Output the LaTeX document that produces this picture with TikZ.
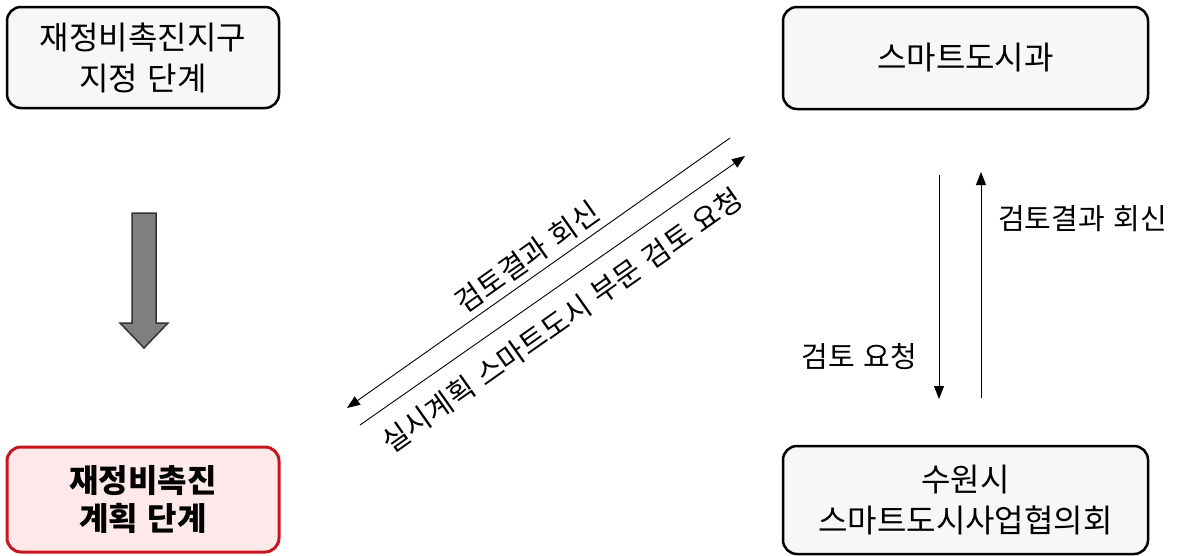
\documentclass[tikz,border=0pt]{standalone}
\usepackage{fontspec}
\newfontfamily\kr{Noto Sans CJK KR}
\newfontfamily\krl[WordSpace=1.3]{Noto Sans CJK KR}
\usetikzlibrary{arrows.meta}
\definecolor{boxfill}{HTML}{F7F7F7}
\definecolor{redline}{HTML}{C8161D}
\definecolor{pinkfill}{HTML}{FDE9EA}
\definecolor{arrowgray}{HTML}{808080}
\tikzset{
  box/.style={draw=black, line width=2.5pt, rounded corners=14pt, fill=boxfill,
    align=center, inner sep=0pt, font=\kr\fontsize{32}{41}\selectfont},
  redbox/.style={box, draw=redline, fill=pinkfill, line width=3pt,
    font=\kr\bfseries\fontsize{32}{38}\selectfont},
  lbl/.style={font=\krl\fontsize{29}{34}\selectfont, inner sep=0pt},
  arr/.style={line width=0.9pt, -{Triangle[length=13pt,width=10pt]}}
}
\begin{document}
\begin{tikzpicture}[x=1pt,y=-1pt]
\useasboundingbox (0,0) rectangle (1178,555);
% boxes
\node[box, minimum width=272pt, minimum height=101pt] (tl) at (143,57.5) {재정비촉진지구\\지정 단계};
\node[redbox, minimum width=272pt, minimum height=105pt] (bl) at (143,499.5) {재정비촉진\\계획 단계};
\node[box, minimum width=365pt, minimum height=102pt] (tr) at (965.5,58) {스마트도시과};
\node[box, minimum width=365pt, minimum height=108pt] (br) at (965.5,500) {수원시\\스마트도시사업협의회};
% gray block arrow
\coordinate (g1) at (132,213);
\fill[arrowgray, draw=black!80, line width=1.5pt, line join=miter]
  (g1) -- ++(24,0) -- ++(0,110) -- ++(12,0) -- (144,348) -- (120,323) -- (132,323) -- cycle;
% diagonal arrows
\coordinate (d1s) at (730,138);
\coordinate (d1e) at (347,408);
\coordinate (d2s) at (360,425);
\coordinate (d2e) at (745,156);
\draw[arr] (d1s) -- (d1e);
\draw[arr] (d2s) -- (d2e);
\node[lbl, rotate=35.2] (lab1) at (527,257) {검토결과 회신};
\node[lbl, rotate=35.2] (lab2) at (562,320) {실시계획 스마트도시 부문 검토 요청};
% vertical arrows
\coordinate (v1s) at (939,175);
\coordinate (v1e) at (939,399);
\coordinate (v2s) at (981,398);
\coordinate (v2e) at (981,172);
\draw[arr] (v1s) -- (v1e);
\draw[arr] (v2s) -- (v2e);
\node[lbl, anchor=west] (lab3) at (998,219) {검토결과 회신};
\node[lbl, anchor=east] (lab4) at (917,357) {검토 요청};
\end{tikzpicture}
\end{document}
